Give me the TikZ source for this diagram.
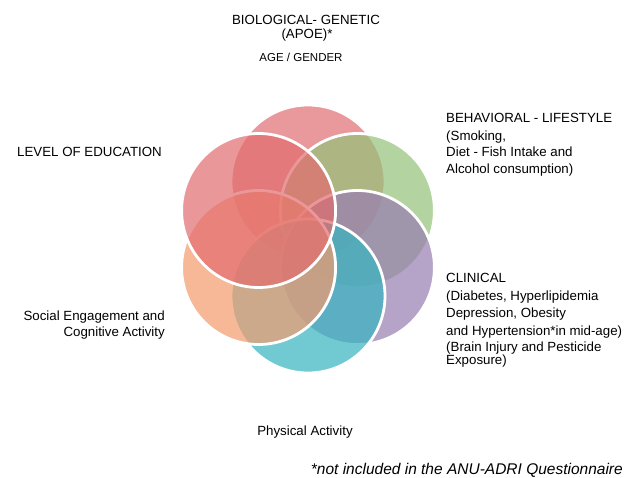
\documentclass[tikz,border=0pt]{standalone}
\usepackage{fontspec}
\setmainfont{Liberation Sans}
\usetikzlibrary{positioning}

\definecolor{bioPink}{RGB}{225,111,114}
\definecolor{lifeGreen}{RGB}{148,194,121}
\definecolor{clinPurple}{RGB}{152,125,178}
\definecolor{physTeal}{RGB}{54,180,192}
\definecolor{socOrange}{RGB}{244,155,109}
\definecolor{eduRed}{RGB}{226,108,110}

\tikzset{
  petal/.style={fill=#1, fill opacity=0.7, draw=white, line width=2.8pt},
  lbl/.style={inner sep=0pt, font=\fontsize{13.3}{15}\selectfont},
}

\begin{document}
\begin{tikzpicture}[x=1pt,y=-1pt]
        \useasboundingbox (0,0) rectangle (641,478);
        \fill[white] (0,0) rectangle (641,478);

        % Petals (clockwise from the top)
        \filldraw[petal=bioPink] (308,182) circle[radius=77pt];
        \filldraw[petal=lifeGreen] (357.4,210.5) circle[radius=77pt];
        \filldraw[petal=clinPurple] (357.4,267.5) circle[radius=77pt];
        \filldraw[petal=physTeal] (308,296) circle[radius=77pt];
        \filldraw[petal=socOrange] (258.6,267.5) circle[radius=77pt];
        \filldraw[petal=eduRed] (258.6,210.5) circle[radius=77pt];

        % Biological
        \node[lbl] (bio) at (306,20) {BIOLOGICAL- GENETIC};
        \node[lbl] (apoe) at (307,35) {(APOE)*};
        \node[lbl, font=\fontsize{11.5}{13}\selectfont] (age) at (301,57) {AGE / GENDER};

        % Behavioral
        \node[lbl, anchor=west] (beh) at (446,118) {BEHAVIORAL - LIFESTYLE};
        \node[lbl, anchor=west] (smoke) at (446,137) {(Smoking,};
        \node[lbl, anchor=west] (diet) at (446,152) {Diet - Fish Intake and};
        \node[lbl, anchor=west] (alc) at (446,170) {Alcohol consumption)};

        % Clinical
        \node[lbl, anchor=west] (clin) at (446,278) {CLINICAL};
        \node[lbl, anchor=west] (diab) at (446,297) {(Diabetes, Hyperlipidemia};
        \node[lbl, anchor=west] (depr) at (446,314) {Depression, Obesity};
        \node[lbl, anchor=west] (hyp) at (446,332) {and Hypertension*in mid-age)};
        \node[lbl, anchor=west] (brain) at (446,348) {(Brain Injury and Pesticide};
        \node[lbl, anchor=west] (expo) at (446,361) {Exposure)};

        % Education
        \node[lbl, anchor=west] (edu) at (17,152) {LEVEL OF EDUCATION};

        % Social
        \node[lbl, anchor=east] (soc) at (165,317) {Social Engagement and};
        \node[lbl, anchor=east] (cog) at (165,333) {Cognitive Activity};

        % Physical
        \node[lbl] (phys) at (305,432) {Physical Activity};

        % Note
        \node[lbl, anchor=east, font=\fontsize{15.5}{17}\selectfont\itshape] (note) at (623,470) {*not included in the ANU-ADRI Questionnaire};
\end{tikzpicture}
\end{document}
